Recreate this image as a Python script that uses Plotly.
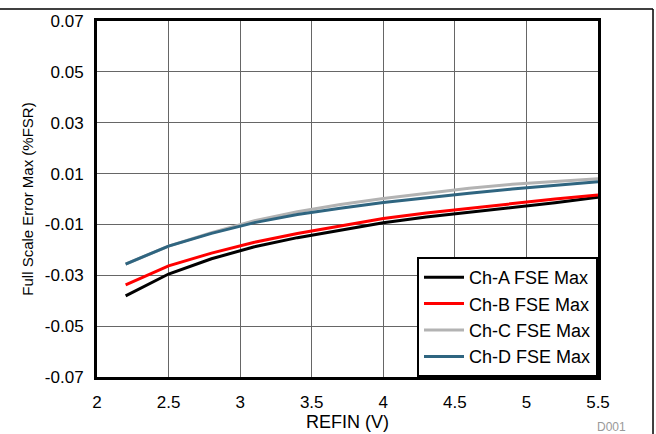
import plotly.graph_objects as go

refin = [2.2, 2.5, 2.8, 3.1, 3.4, 3.7, 4.0, 4.3, 4.6, 4.9, 5.2, 5.5]
ch_a = [-0.0381, -0.0295, -0.0235, -0.0188, -0.0152, -0.0122, -0.0093, -0.0071, -0.0052, -0.0033, -0.0015, 0.0007]
ch_b = [-0.0338, -0.0263, -0.0213, -0.0170, -0.0136, -0.0106, -0.0077, -0.0055, -0.0036, -0.0018, 0.0000, 0.0016]
ch_c = [-0.0256, -0.0185, -0.0132, -0.0085, -0.0050, -0.0022, 0.0002, 0.0023, 0.0042, 0.0058, 0.0070, 0.0080]
ch_d = [-0.0256, -0.0185, -0.0135, -0.0093, -0.0061, -0.0036, -0.0014, 0.0005, 0.0023, 0.0039, 0.0054, 0.0068]
names = ["Ch-A FSE Max", "Ch-B FSE Max", "Ch-C FSE Max", "Ch-D FSE Max"]
colors = ["#000000", "#ff0000", "#b3b3b3", "#2f6580"]
x_ticks = [2, 2.5, 3, 3.5, 4, 4.5, 5, 5.5]
x_tick_text = ["2", "2.5", "3", "3.5", "4", "4.5", "5", "5.5"]
y_ticks = [-0.07, -0.05, -0.03, -0.01, 0.01, 0.03, 0.05, 0.07]
y_tick_text = ["-0.07", "-0.05", "-0.03", "-0.01", "0.01", "0.03", "0.05", "0.07"]

fig = go.Figure()
for ys, n, c in zip([ch_a, ch_b, ch_c, ch_d], names, colors):
    fig.add_trace(go.Scatter(x=refin, y=ys, name=n, mode="lines",
                             line=dict(color=c, width=3)))

font = "Arial, Liberation Sans, sans-serif"
fig.update_layout(
    width=656, height=434,
    margin=dict(l=97, r=58, t=21, b=57),
    paper_bgcolor="white", plot_bgcolor="white",
    font=dict(family=font, size=17, color="black"),
    showlegend=True,
    legend=dict(x=1, xanchor="right", y=0, yanchor="bottom",
                bgcolor="white", bordercolor="black", borderwidth=2,
                font=dict(size=18), tracegroupgap=0, itemwidth=40),
    xaxis=dict(range=[2, 5.5], tickvals=x_ticks, ticktext=x_tick_text,
               showgrid=True, gridcolor="#666666", gridwidth=1,
               showline=True, linecolor="black", linewidth=3, mirror=True,
               ticks="", ticklabelstandoff=8, zeroline=False, automargin=False,
               tickfont=dict(size=17),
               title=dict(text="REFIN (V)", standoff=2, font=dict(size=18))),
    yaxis=dict(range=[-0.07, 0.07], tickvals=y_ticks, ticktext=y_tick_text,
               showgrid=True, gridcolor="#666666", gridwidth=1,
               showline=True, linecolor="black", linewidth=3, mirror=True,
               ticks="", ticklabelstandoff=7, zeroline=False, automargin=False,
               tickfont=dict(size=17),
               title=dict(text="Full Scale Error Max (%FSR)", standoff=8, font=dict(size=15))),
    shapes=[
        dict(type="line", xref="paper", yref="paper", x0=-0.3, x1=1.1098,
             y0=1.0337, y1=1.0337, line=dict(color="black", width=1.5)),
        dict(type="line", xref="paper", yref="paper", x0=1.1098, x1=1.1098,
             y0=1.0337, y1=-0.2, line=dict(color="black", width=1.5)),
    ],
    annotations=[
        dict(text="D001", xref="paper", yref="paper", x=1.026, y=-0.14,
             xanchor="center", yanchor="middle", showarrow=False,
             font=dict(size=12, color="#999999")),
    ],
)

fig.write_html("out.html", config={"displayModeBar": False},
               post_script="document.body.style.margin='0px';document.body.style.overflow='hidden';")
